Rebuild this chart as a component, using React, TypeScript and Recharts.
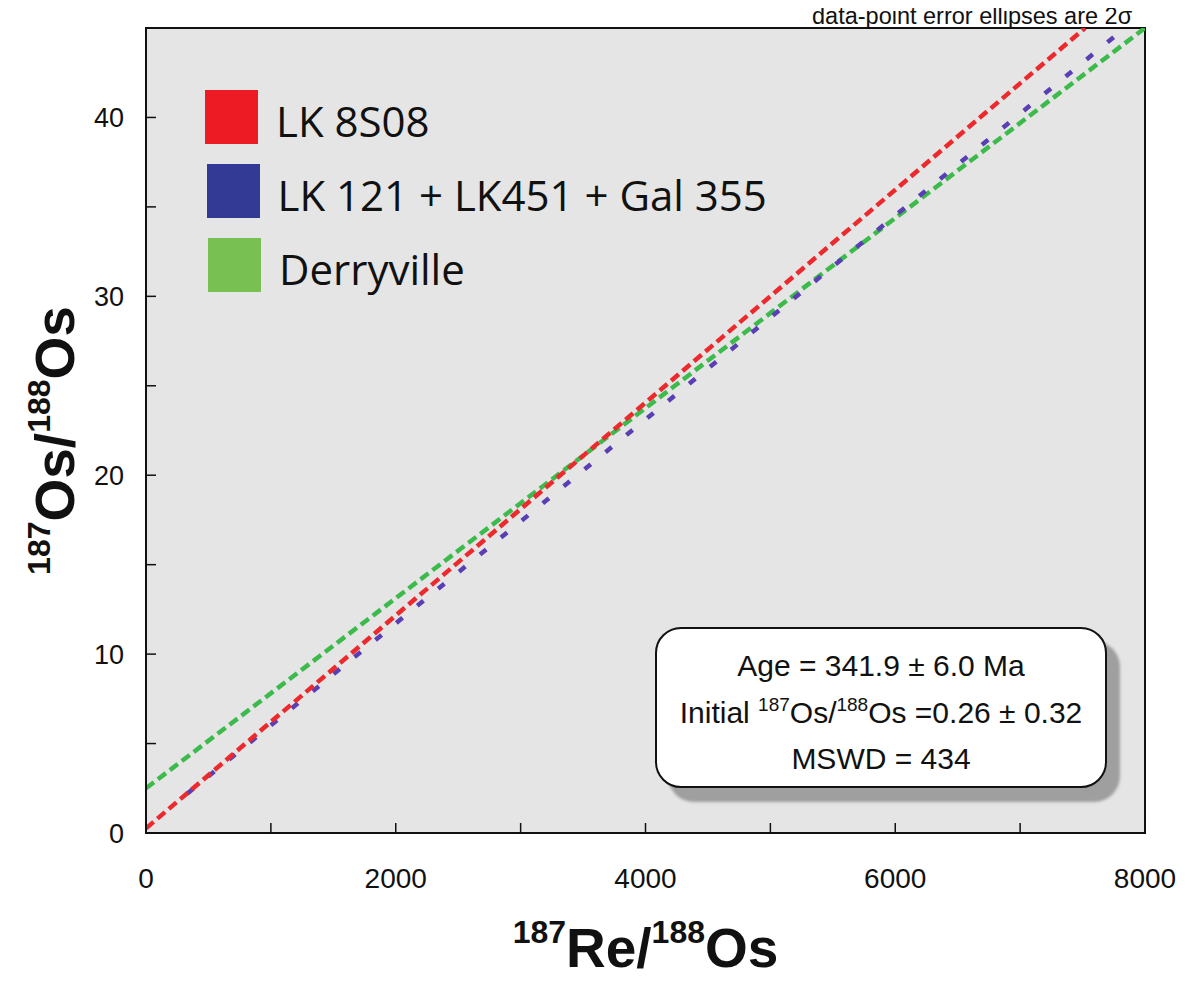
import React from "react";
import {
  ComposedChart,
  Line,
  XAxis,
  YAxis,
  CartesianGrid,
  ReferenceArea,
  Legend,
  Label,
} from "recharts";

// Isochron regression lines (187Re/188Os vs 187Os/188Os)
const lk8s08Line = [
  { x: 0, y: 0.26 },
  { x: 7520, y: 45 },
];
const lkGalLine = [
  { x: 330, y: 2.2 },
  { x: 7840, y: 45 },
];
const derryvilleLine = [
  { x: 0, y: 2.5 },
  { x: 8000, y: 45 },
];

const xTicks = [0, 1000, 2000, 3000, 4000, 5000, 6000, 7000, 8000];
const yTicks = [0, 5, 10, 15, 20, 25, 30, 35, 40];

const legendItems = [
  { label: "LK 8S08", color: "#ed1c24" },
  { label: "LK 121 + LK451 + Gal 355", color: "#333a96" },
  { label: "Derryville", color: "#78c052" },
];

const statLines = {
  age: "Age = 341.9 \u00b1 6.0 Ma",
  initial: "=0.26 \u00b1 0.32",
  mswd: "MSWD = 434",
};

const W = 1179;
const H = 974;
const SANS = "'Liberation Sans', Arial, Helvetica, sans-serif";

const renderLegend = () => (
  <div style={{ fontFamily: "'Open Sans', sans-serif" }}>
    {legendItems.map((item, i) => (
      <div
        key={item.label}
        style={{
          display: "flex",
          alignItems: "center",
          height: 54,
          marginBottom: i < legendItems.length - 1 ? 20 : 0,
          marginLeft: i * 1.5,
        }}
      >
        <div
          style={{
            width: 53,
            height: 54,
            background: item.color,
            marginRight: 18,
            flex: "none",
          }}
        />
        <span
          style={{
            fontSize: 42,
            color: "#111",
            lineHeight: "54px",
            position: "relative",
            top: 4,
            whiteSpace: "nowrap",
          }}
        >
          {item.label}
        </span>
      </div>
    ))}
  </div>
);

const XTitle = (props: any) => {
  const vb = props.viewBox || {};
  const cx = vb.x + vb.width / 2;
  const by = vb.y + 134;
  return (
    <text
      x={cx}
      y={by}
      textAnchor="middle"
      fontFamily={SANS}
      fontWeight="bold"
      fill="#111"
    >
      <tspan fontSize={32} dy={-24}>187</tspan>
      <tspan fontSize={55} dy={24}>Re/</tspan>
      <tspan fontSize={32} dy={-24}>188</tspan>
      <tspan fontSize={55} dy={24}>Os</tspan>
    </text>
  );
};

const YTitle = (props: any) => {
  const vb = props.viewBox || {};
  const cx = vb.x - 12;
  const cy = vb.y + vb.height / 2 + 10;
  return (
    <text
      x={cx}
      y={cy}
      transform={`rotate(-90 ${cx} ${cy})`}
      textAnchor="middle"
      fontFamily={SANS}
      fontWeight="bold"
      fill="#111"
    >
      <tspan fontSize={32} dy={-24}>187</tspan>
      <tspan fontSize={55} dy={24}>Os/</tspan>
      <tspan fontSize={32} dy={-24}>188</tspan>
      <tspan fontSize={55} dy={24}>Os</tspan>
    </text>
  );
};

const supStyle: React.CSSProperties = {
  fontSize: 19,
  verticalAlign: "12px",
  lineHeight: 0,
};

export default function App() {
  return (
    <div style={{ position: "relative", width: W, height: H }}>
      <ComposedChart
        width={W}
        height={H}
        margin={{ top: 20, right: 42, bottom: 89, left: 78 }}
      >
        <CartesianGrid
          horizontal={false}
          vertical={false}
          fill="#e4e5e4"
          fillOpacity={1}
        />
        <XAxis
          type="number"
          dataKey="x"
          domain={[0, 8000]}
          ticks={xTicks}
          interval={0}
          height={60}
          tickSize={-10}
          tickMargin={45}
          tickFormatter={(v: number) => (v % 2000 === 0 ? String(v) : "")}
          tick={{ fontSize: 28, fill: "#111", fontFamily: SANS }}
          tickLine={{ stroke: "#111", strokeWidth: 1.5 }}
          axisLine={{ stroke: "#111", strokeWidth: 2 }}
          allowDataOverflow
        >
          <Label content={<XTitle />} />
        </XAxis>
        <YAxis
          type="number"
          dataKey="y"
          domain={[0, 45]}
          ticks={yTicks}
          interval={0}
          width={60}
          tickSize={-10}
          tickMargin={32}
          tickFormatter={(v: number) => (v % 10 === 0 ? String(v) : "")}
          tick={{ fontSize: 27, fill: "#111", fontFamily: SANS }}
          tickLine={{ stroke: "#111", strokeWidth: 1.5 }}
          axisLine={{ stroke: "#111", strokeWidth: 2 }}
          allowDataOverflow
        >
          <Label content={<YTitle />} />
        </YAxis>
        <Line
          data={derryvilleLine}
          dataKey="y"
          name="Derryville"
          stroke="#3dba4c"
          strokeWidth={4.5}
          strokeDasharray="10 5"
          dot={false}
          activeDot={false}
          isAnimationActive={false}
        />
        <Line
          data={lkGalLine}
          dataKey="y"
          name="LK 121 + LK451 + Gal 355"
          stroke="#5a3fb4"
          strokeWidth={4.5}
          strokeDasharray="8 19"
          dot={false}
          activeDot={false}
          isAnimationActive={false}
        />
        <Line
          data={lk8s08Line}
          dataKey="y"
          name="LK 8S08"
          stroke="#ec2a2e"
          strokeWidth={4.5}
          strokeDasharray="10 5"
          dot={false}
          activeDot={false}
          isAnimationActive={false}
        />
        <ReferenceArea
          x1={0}
          x2={8000}
          y1={0}
          y2={45}
          fill="none"
          stroke="#111"
          strokeWidth={2}
          ifOverflow="visible"
        />
        <Legend
          layout="vertical"
          align="center"
          verticalAlign="middle"
          content={renderLegend}
          wrapperStyle={{ position: "absolute", left: 197, top: 82, width: 700 }}
        />
      </ComposedChart>

      <div
        style={{
          position: "absolute",
          left: 804,
          top: -6,
          fontFamily: SANS,
          fontSize: 23.5,
          color: "#111",
          whiteSpace: "nowrap",
          lineHeight: "28px",
        }}
      >
        data-point error ellipses are 2{"\u03c3"}
      </div>

      <div
        style={{
          position: "absolute",
          left: 647,
          top: 619,
          width: 448,
          height: 157,
          background: "#fff",
          border: "2px solid #111",
          borderRadius: 26,
          boxShadow: "13px 14px 3px #9f9f9f",
          fontFamily: SANS,
          color: "#111",
          textAlign: "center",
          fontSize: 30,
          whiteSpace: "nowrap",
        }}
      >
        <div style={{ position: "absolute", left: 0, right: 0, top: 20, lineHeight: "34px" }}>
          {statLines.age}
        </div>
        <div style={{ position: "absolute", left: 0, right: 0, top: 67, lineHeight: "34px" }}>
          Initial <sup style={supStyle}>187</sup>Os/
          <sup style={supStyle}>188</sup>Os {statLines.initial}
        </div>
        <div style={{ position: "absolute", left: 0, right: 0, top: 113, lineHeight: "34px" }}>
          {statLines.mswd}
        </div>
      </div>
    </div>
  );
}
